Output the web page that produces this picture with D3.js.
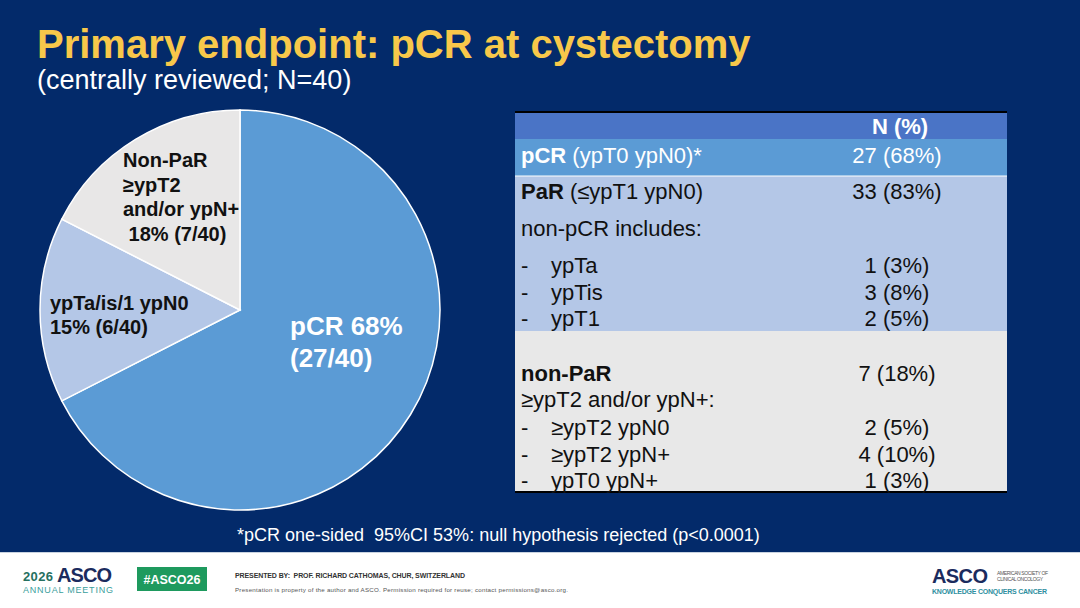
<!DOCTYPE html>
<html>
<head>
<meta charset="utf-8">
<script src="https://cdn.jsdelivr.net/npm/d3@7"></script>
<style>
html,body{margin:0;padding:0;background:#032a6a;}
svg{display:block;font-family:"Liberation Sans",Arial,sans-serif;}
text{white-space:pre;}
</style>
</head>
<body>
<svg id="chart" width="1080" height="608"></svg>
<script>
// ---------- data ----------
const pieCategories = ["pCR", "ypTa/is/1 ypN0", "Non-PaR"];
const pieValues = [27, 6, 7];
const pieLabelLines = [
  ["pCR 68%", "(27/40)"],
  ["ypTa/is/1 ypN0", "15% (6/40)"],
  ["Non-PaR", "≥ypT2", "and/or ypN+", " 18% (7/40)"]
];
const tableHeader = "N (%)";
const rowBold = ["pCR", "PaR", "", "", "", "", "non-PaR", "", "", "", ""];
const rowText = [" (ypT0 ypN0)*", " (≤ypT1 ypN0)", "non-pCR includes:", "ypTa", "ypTis", "ypT1", "", "≥ypT2 and/or ypN+:", "≥ypT2 ypN0", "≥ypT2 ypN+", "ypT0 ypN+"];
const rowDash = [false, false, false, true, true, true, false, false, true, true, true];
const rowValues = ["27 (68%)", "33 (83%)", "", "1 (3%)", "3 (8%)", "2 (5%)", "7 (18%)", "", "2 (5%)", "4 (10%)", "1 (3%)"];
const rowSection = [1, 2, 2, 2, 2, 2, 3, 3, 3, 3, 3];

// ---------- layout ----------
const svg = d3.select("#chart");
const navy = "#032a6a";
svg.append("rect").attr("width", 1080).attr("height", 608).attr("fill", navy);

// title
svg.append("text").attr("x", 37).attr("y", 58).attr("fill", "#f8c84a")
  .attr("font-size", 40).attr("font-weight", "bold")
  .text("Primary endpoint: pCR at cystectomy");
svg.append("text").attr("x", 37).attr("y", 89).attr("fill", "#ffffff")
  .attr("font-size", 27)
  .text("(centrally reviewed; N=40)");

// pie
const pieColors = d3.scaleOrdinal().domain(pieCategories).range(["#5b9bd5", "#b4c7e7", "#e8e7e7"]);
const cx = 240, cy = 310, R = 200;
const pie = d3.pie().sort(null).value(d => d)(pieValues);
const arc = d3.arc().innerRadius(0).outerRadius(R);
const pg = svg.append("g").attr("transform", `translate(${cx},${cy})`);
pg.selectAll("path").data(pie).join("path")
  .attr("d", arc)
  .attr("fill", (d, i) => pieColors(pieCategories[i]))
  .attr("stroke", "#ffffff").attr("stroke-width", 1.5);

const labelSpecs = [
  {x: 290, y: 335, dy: 32, size: 26, color: "#ffffff"},
  {x: 50, y: 310, dy: 24, size: 20, color: "#111111"},
  {x: 123, y: 167, dy: 24.5, size: 20, color: "#111111"}
];
pieLabelLines.forEach((lines, i) => {
  const s = labelSpecs[i];
  lines.forEach((ln, j) => {
    svg.append("text").attr("x", s.x).attr("y", s.y + j * s.dy)
      .attr("fill", s.color).attr("font-size", s.size).attr("font-weight", "bold")
      .text(ln);
  });
});

// table
const tL = 515, tR = 1007, valX = 897;
const sections = [
  {y0: 113, y1: 139, fill: "#4a74c6"},
  {y0: 139, y1: 176, fill: "#5b9bd5"},
  {y0: 176, y1: 331, fill: "#b4c7e7"},
  {y0: 331, y1: 492, fill: "#e8e8e8"}
];
svg.selectAll("rect.sec").data(sections).join("rect").attr("class", "sec")
  .attr("x", tL).attr("width", tR - tL)
  .attr("y", d => d.y0).attr("height", d => d.y1 - d.y0)
  .attr("fill", d => d.fill);
svg.append("line").attr("x1", tL).attr("x2", tR).attr("y1", 176).attr("y2", 176)
  .attr("stroke", "#ffffff").attr("stroke-width", 1);
svg.append("line").attr("x1", tL).attr("x2", tR).attr("y1", 112).attr("y2", 112)
  .attr("stroke", "#000000").attr("stroke-width", 2);
svg.append("line").attr("x1", tL).attr("x2", tR).attr("y1", 492).attr("y2", 492)
  .attr("stroke", "#000000").attr("stroke-width", 2);

svg.append("text").attr("x", 900).attr("y", 134).attr("text-anchor", "middle")
  .attr("fill", "#ffffff").attr("font-size", 22).attr("font-weight", "bold").text(tableHeader);

const rowY = [163, 199, 236, 273, 300, 326, 381, 407, 435, 462, 488];
rowText.forEach((t, i) => {
  const col = rowSection[i] === 1 ? "#ffffff" : "#111111";
  const y = rowY[i];
  if (rowDash[i]) {
    svg.append("text").attr("x", 521).attr("y", y).attr("fill", col).attr("font-size", 22).text("-");
  }
  const tx = svg.append("text").attr("x", rowDash[i] ? 551 : 521).attr("y", y)
    .attr("fill", col).attr("font-size", 22);
  if (rowBold[i]) tx.append("tspan").attr("font-weight", "bold").text(rowBold[i]);
  if (t) tx.append("tspan").text(t);
  if (rowValues[i]) {
    svg.append("text").attr("x", valX).attr("y", y).attr("text-anchor", "middle")
      .attr("fill", col).attr("font-size", 22).text(rowValues[i]);
  }
});

// footnote
svg.append("text").attr("x", 237).attr("y", 541).attr("fill", "#ffffff").attr("font-size", 18)
  .text("*pCR one-sided  95%CI 53%: null hypothesis rejected (p<0.0001)");

// footer
svg.append("rect").attr("x", 0).attr("y", 552).attr("width", 1080).attr("height", 56).attr("fill", "#ffffff");
svg.append("line").attr("x1", 0).attr("x2", 1080).attr("y1", 552.5).attr("y2", 552.5).attr("stroke", "#c9d3e0").attr("stroke-width", 1);
svg.append("text").attr("x", 23).attr("y", 581).attr("fill", "#26705f").attr("font-size", 13).attr("font-weight", "bold")
  .attr("textLength", 30).text("2026");
svg.append("text").attr("x", 57).attr("y", 582).attr("fill", "#1b2b5e").attr("font-size", 20).attr("font-weight", "bold")
  .attr("textLength", 55).text("ASCO");
svg.append("text").attr("x", 23).attr("y", 593).attr("fill", "#3a9e9c").attr("font-size", 9)
  .attr("textLength", 90).text("ANNUAL MEETING");
svg.append("rect").attr("x", 137).attr("y", 567).attr("width", 70).attr("height", 24).attr("fill", "#1e9a5e");
svg.append("text").attr("x", 172).attr("y", 584).attr("text-anchor", "middle").attr("fill", "#ffffff")
  .attr("font-size", 12.5).attr("font-weight", "bold").text("#ASCO26");
svg.append("text").attr("x", 235).attr("y", 578).attr("fill", "#333333").attr("font-size", 7).attr("font-weight", "bold")
  .attr("textLength", 230).text("PRESENTED BY:  PROF. RICHARD CATHOMAS, CHUR, SWITZERLAND");
svg.append("text").attr("x", 235).attr("y", 592).attr("fill", "#555555").attr("font-size", 6.2)
  .attr("textLength", 333).text("Presentation is property of the author and ASCO. Permission required for reuse; contact permissions@asco.org.");
svg.append("text").attr("x", 932).attr("y", 583).attr("fill", "#1b2b5e").attr("font-size", 20).attr("font-weight", "bold")
  .attr("textLength", 56).text("ASCO");
svg.append("text").attr("x", 997).attr("y", 575).attr("fill", "#555555").attr("font-size", 5)
  .attr("textLength", 51).text("AMERICAN SOCIETY OF");
svg.append("text").attr("x", 997).attr("y", 580.5).attr("fill", "#555555").attr("font-size", 5)
  .attr("textLength", 46).text("CLINICAL ONCOLOGY");
svg.append("text").attr("x", 932).attr("y", 594).attr("fill", "#2f8fa0").attr("font-size", 7).attr("font-weight", "bold")
  .attr("textLength", 115).text("KNOWLEDGE CONQUERS CANCER");
</script>
</body>
</html>
